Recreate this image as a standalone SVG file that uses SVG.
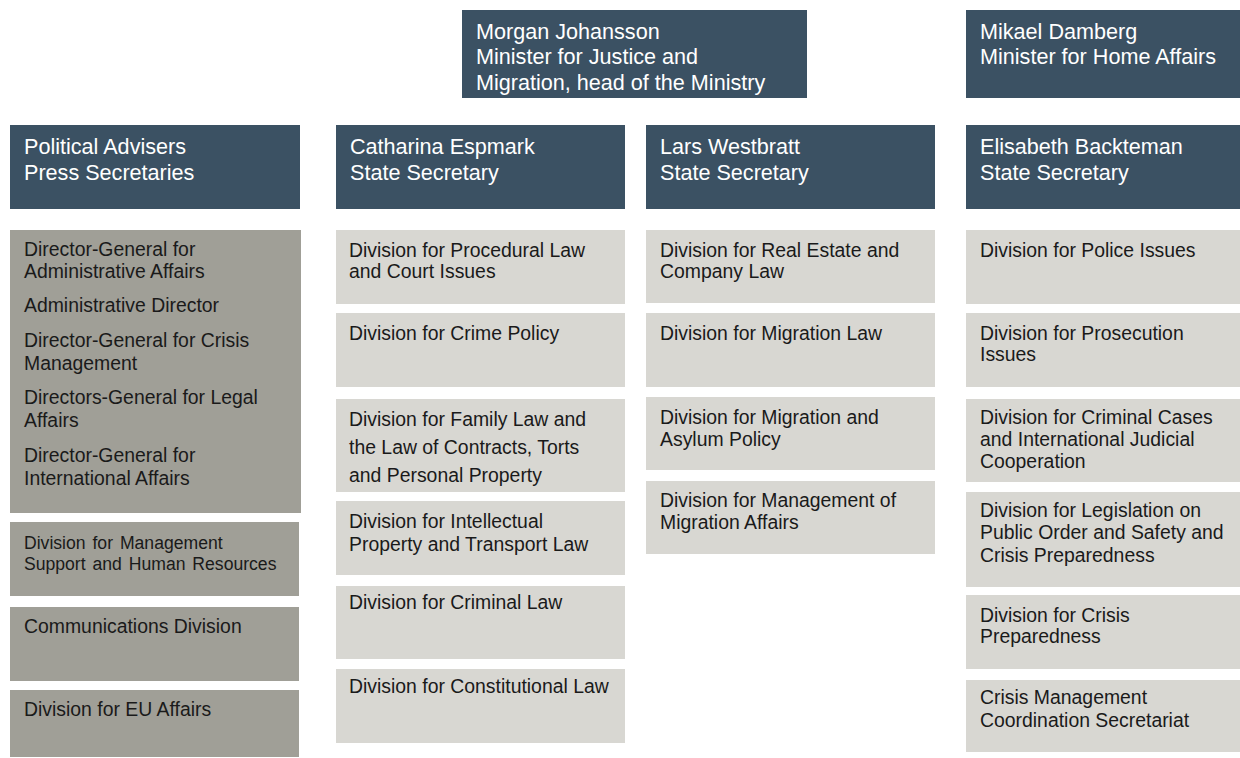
<svg xmlns="http://www.w3.org/2000/svg" width="1240" height="758" viewBox="0 0 1240 758">
<style>
.hd{fill:#3b5163}
.dk{fill:#a09f97}
.lt{fill:#d8d7d2}
.ht{font-family:"Liberation Sans",Arial,sans-serif;font-size:21.6px;fill:#ffffff}
.bt{font-family:"Liberation Sans",Arial,sans-serif;font-size:19.4px;fill:#1a1a1a}
.sm{font-size:17.6px;word-spacing:2px}
</style>
<rect width="1240" height="758" fill="#ffffff"/>
<g id="connectors"></g>
<g id="morgan"><rect class="hd" x="462" y="10" width="345" height="88"/>
<text class="ht" x="476" y="39">Morgan Johansson</text><text class="ht" x="476" y="64">Minister for Justice and</text><text class="ht" x="476" y="90">Migration, head of the Ministry</text></g>
<g id="mikael"><rect class="hd" x="966" y="10" width="274" height="88"/>
<text class="ht" x="980" y="39">Mikael Damberg</text><text class="ht" x="980" y="64">Minister for Home Affairs</text></g>
<g id="political"><rect class="hd" x="10" y="125" width="290" height="84"/>
<text class="ht" x="24" y="154">Political Advisers</text><text class="ht" x="24" y="180">Press Secretaries</text></g>
<g id="catharina"><rect class="hd" x="336" y="125" width="289" height="84"/>
<text class="ht" x="350" y="154">Catharina Espmark</text><text class="ht" x="350" y="180">State Secretary</text></g>
<g id="lars"><rect class="hd" x="646" y="125" width="289" height="84"/>
<text class="ht" x="660" y="154">Lars Westbratt</text><text class="ht" x="660" y="180">State Secretary</text></g>
<g id="elisabeth"><rect class="hd" x="966" y="125" width="274" height="84"/>
<text class="ht" x="980" y="154">Elisabeth Backteman</text><text class="ht" x="980" y="180">State Secretary</text></g>

<g id="directors"><rect class="dk" x="10" y="230" width="291" height="283"/>
<text class="bt" x="24" y="256">Director-General for</text><text class="bt" x="24" y="278">Administrative Affairs</text>
<text class="bt" x="24" y="312">Administrative Director</text>
<text class="bt" x="24" y="347">Director-General for Crisis</text><text class="bt" x="24" y="370">Management</text>
<text class="bt" x="24" y="404">Directors-General for Legal</text><text class="bt" x="24" y="427">Affairs</text>
<text class="bt" x="24" y="462">Director-General for</text><text class="bt" x="24" y="485">International Affairs</text></g>
<g id="mgmt-support"><rect class="dk" x="10" y="522" width="289" height="74"/>
<text class="bt sm" x="24" y="549">Division for Management</text><text class="bt sm" x="24" y="570">Support and Human Resources</text></g>
<g id="communications"><rect class="dk" x="10" y="607" width="289" height="74"/>
<text class="bt" x="24" y="633">Communications Division</text></g>
<g id="eu"><rect class="dk" x="10" y="690" width="289" height="67"/>
<text class="bt" x="24" y="716">Division for EU Affairs</text></g>

<g id="procedural"><rect class="lt" x="336" y="230" width="289" height="74"/>
<text class="bt" x="349" y="257">Division for Procedural Law</text><text class="bt" x="349" y="278">and Court Issues</text></g>
<g id="crime-policy"><rect class="lt" x="336" y="313" width="289" height="74"/>
<text class="bt" x="349" y="340">Division for Crime Policy</text></g>
<g id="family"><rect class="lt" x="336" y="399" width="289" height="93"/>
<text class="bt" x="349" y="426">Division for Family Law and</text><text class="bt" x="349" y="454">the Law of Contracts, Torts</text><text class="bt" x="349" y="482">and Personal Property</text></g>
<g id="intellectual"><rect class="lt" x="336" y="501" width="289" height="74"/>
<text class="bt" x="349" y="528">Division for Intellectual</text><text class="bt" x="349" y="551">Property and Transport Law</text></g>
<g id="criminal-law"><rect class="lt" x="336" y="586" width="289" height="73"/>
<text class="bt" x="349" y="609">Division for Criminal Law</text></g>
<g id="constitutional"><rect class="lt" x="336" y="669" width="289" height="74"/>
<text class="bt" x="349" y="693">Division for Constitutional Law</text></g>

<g id="real-estate"><rect class="lt" x="646" y="230" width="289" height="73"/>
<text class="bt" x="660" y="257">Division for Real Estate and</text><text class="bt" x="660" y="278">Company Law</text></g>
<g id="migration-law"><rect class="lt" x="646" y="313" width="289" height="74"/>
<text class="bt" x="660" y="340">Division for Migration Law</text></g>
<g id="asylum"><rect class="lt" x="646" y="397" width="289" height="73"/>
<text class="bt" x="660" y="424">Division for Migration and</text><text class="bt" x="660" y="446">Asylum Policy</text></g>
<g id="migration-mgmt"><rect class="lt" x="646" y="481" width="289" height="73"/>
<text class="bt" x="660" y="507">Division for Management of</text><text class="bt" x="660" y="529">Migration Affairs</text></g>

<g id="police"><rect class="lt" x="966" y="230" width="274" height="74"/>
<text class="bt" x="980" y="257">Division for Police Issues</text></g>
<g id="prosecution"><rect class="lt" x="966" y="313" width="274" height="74"/>
<text class="bt" x="980" y="340">Division for Prosecution</text><text class="bt" x="980" y="361">Issues</text></g>
<g id="criminal-cases"><rect class="lt" x="966" y="399" width="274" height="83"/>
<text class="bt" x="980" y="424">Division for Criminal Cases</text><text class="bt" x="980" y="446">and International Judicial</text><text class="bt" x="980" y="468">Cooperation</text></g>
<g id="legislation"><rect class="lt" x="966" y="492" width="274" height="95"/>
<text class="bt" x="980" y="517">Division for Legislation on</text><text class="bt" x="980" y="539">Public Order and Safety and</text><text class="bt" x="980" y="562">Crisis Preparedness</text></g>
<g id="crisis-prep"><rect class="lt" x="966" y="595" width="274" height="74"/>
<text class="bt" x="980" y="622">Division for Crisis</text><text class="bt" x="980" y="643">Preparedness</text></g>
<g id="crisis-mgmt"><rect class="lt" x="966" y="680" width="274" height="72"/>
<text class="bt" x="980" y="704">Crisis Management</text><text class="bt" x="980" y="727">Coordination Secretariat</text></g>
</svg>
